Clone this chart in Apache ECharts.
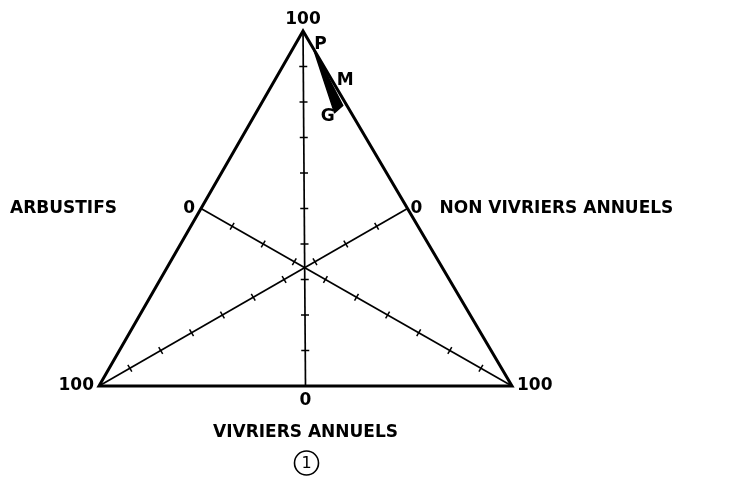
<!DOCTYPE html>
<html><head><meta charset="utf-8">
<script src="https://cdn.jsdelivr.net/npm/echarts@6/dist/echarts.min.js"></script>
<style>html,body{margin:0;padding:0;background:#fff}#c{width:733px;height:483px}</style>
</head><body><div id="c"></div>
<script>
// Compositions are [vivriers annuels, non vivriers annuels, arbustifs] in %
const vertexTop = [100, 0, 0];
const vertexLeft = [0, 100, 0];
const vertexRight = [0, 0, 100];
const vertexLabel = '100';
const midLabel = '0';
const axisNames = ['VIVRIERS ANNUELS', 'NON VIVRIERS ANNUELS', 'ARBUSTIFS'];
const tickSteps = [10, 20, 30, 40, 50, 60, 70, 80, 90];
const pointNames = ['P', 'M', 'G'];
const pointVivriers = [95, 86, 78];
const pointNonVivriers = [0, 1, 3];
const pointArbustifs = [5, 13, 19];
const wedgeVivriers = [95, 79, 77];
const wedgeNonVivriers = [0, 1, 4];
const wedgeArbustifs = [5, 20, 19];
const plateNumber = '1';

const TOP_X = 49.4; // horizontal position of the vivriers apex on the 0-100 base
function proj(c) {
  const s = c[0] + c[1] + c[2];
  return [(c[2] * 100 + c[0] * TOP_X) / s, c[0] * 100 / s];
}
// composition at value s on the median of component k (others split equally)
function medianPoint(k, s) {
  const c = [(100 - s) / 2, (100 - s) / 2, (100 - s) / 2];
  c[k] = s;
  return c;
}

const FONT = { fontFamily: 'DejaVu Sans', fontWeight: 'bold', fontSize: 17, color: '#000', textBorderWidth: 0 };

const chart = echarts.init(document.getElementById('c'), null, { renderer: 'canvas' });

const frameData = [vertexLeft, vertexTop, vertexRight].map(proj);
const wedgeData = wedgeVivriers.map((v, i) => proj([v, wedgeNonVivriers[i], wedgeArbustifs[i]]));
const pointData = pointNames.map((n, i) => proj([pointVivriers[i], pointNonVivriers[i], pointArbustifs[i]]));

const lab = (c, text, position, distance, extra) => ({
  value: proj(c),
  label: Object.assign({ show: true, formatter: text, position: position, distance: distance }, FONT, extra || {})
});

const textItems = [
  lab(vertexTop, vertexLabel, 'top', 3),
  lab(vertexLeft, vertexLabel, 'left', 5),
  lab(vertexRight, vertexLabel, 'right', 5),
  lab(medianPoint(2, 0), midLabel, 'left', 6),
  lab(medianPoint(1, 0), midLabel, 'right', 3),
  lab(medianPoint(0, 0), midLabel, 'bottom', 6),
  lab(medianPoint(2, 0), axisNames[2], 'left', 84),
  lab(medianPoint(1, 0), axisNames[1], 'right', 32),
  lab(medianPoint(0, 0), axisNames[0], 'bottom', 38)
];

const pointOffsets = [[7, -4], [17, 0], [-9, 7]];

chart.setOption({
  animation: false,
  backgroundColor: '#fff',
  grid: { left: 99, right: 221, top: 31, bottom: 97 },
  xAxis: { type: 'value', min: 0, max: 100, show: false },
  yAxis: { type: 'value', min: 0, max: 100, show: false },
  series: [
    {
      // triangle frame
      type: 'custom',
      coordinateSystem: 'cartesian2d',
      data: [0],
      renderItem: function (params, api) {
        return {
          type: 'polygon',
          shape: { points: frameData.map(p => api.coord(p)) },
          style: { fill: null, stroke: '#000', lineWidth: 3, lineJoin: 'miter', miterLimit: 20 }
        };
      },
      z: 3
    },
    {
      // medians with ticks every 10 %
      type: 'custom',
      coordinateSystem: 'cartesian2d',
      data: [0, 1, 2],
      renderItem: function (params, api) {
        const k = api.value(0);
        const a = api.coord(proj(medianPoint(k, 0)));
        const b = api.coord(proj(medianPoint(k, 100)));
        const dx = b[0] - a[0], dy = b[1] - a[1];
        const len = Math.hypot(dx, dy);
        const nx = -dy / len, ny = dx / len;
        const children = [{
          type: 'line',
          shape: { x1: a[0], y1: a[1], x2: b[0], y2: b[1] },
          style: { stroke: '#000', lineWidth: 1.7 }
        }];
        tickSteps.forEach(s => {
          const p = api.coord(proj(medianPoint(k, s)));
          children.push({
            type: 'line',
            shape: { x1: p[0] - nx * 4, y1: p[1] - ny * 4, x2: p[0] + nx * 4, y2: p[1] + ny * 4 },
            style: { stroke: '#000', lineWidth: 1.5 }
          });
        });
        return { type: 'group', children: children };
      },
      z: 2
    },
    {
      // P - M - G trajectory band
      type: 'custom',
      coordinateSystem: 'cartesian2d',
      data: [0],
      renderItem: function (params, api) {
        return {
          type: 'polygon',
          shape: { points: wedgeData.map(p => api.coord(p)) },
          style: { fill: '#000', stroke: '#000', lineWidth: 1.5, lineJoin: 'round' }
        };
      },
      z: 4
    },
    {
      type: 'scatter',
      symbolSize: 0,
      itemStyle: { opacity: 1 },
      data: pointData.map((p, i) => ({
        value: p,
        label: Object.assign({ show: true, formatter: pointNames[i], position: 'inside', offset: pointOffsets[i] }, FONT)
      })),
      z: 5
    },
    {
      type: 'scatter',
      symbolSize: 0,
      itemStyle: { opacity: 1 },
      data: textItems,
      z: 5
    },
    {
      // plate number in a circle, drawn below the bottom axis name
      type: 'custom',
      coordinateSystem: 'cartesian2d',
      data: [0],
      renderItem: function (params, api) {
        const p = api.coord(proj(medianPoint(0, 0)));
        const cx = p[0] + 1, cy = p[1] + 77;
        return {
          type: 'group',
          children: [
            { type: 'circle', shape: { cx: cx, cy: cy, r: 12 }, style: { fill: null, stroke: '#000', lineWidth: 1.6 } },
            {
              type: 'text',
              style: {
                text: plateNumber, x: cx, y: cy + 1, align: 'center', verticalAlign: 'middle',
                font: 'normal 16px "DejaVu Sans"', fill: '#000'
              }
            }
          ]
        };
      },
      z: 5
    }
  ]
});
</script>
</body></html>
